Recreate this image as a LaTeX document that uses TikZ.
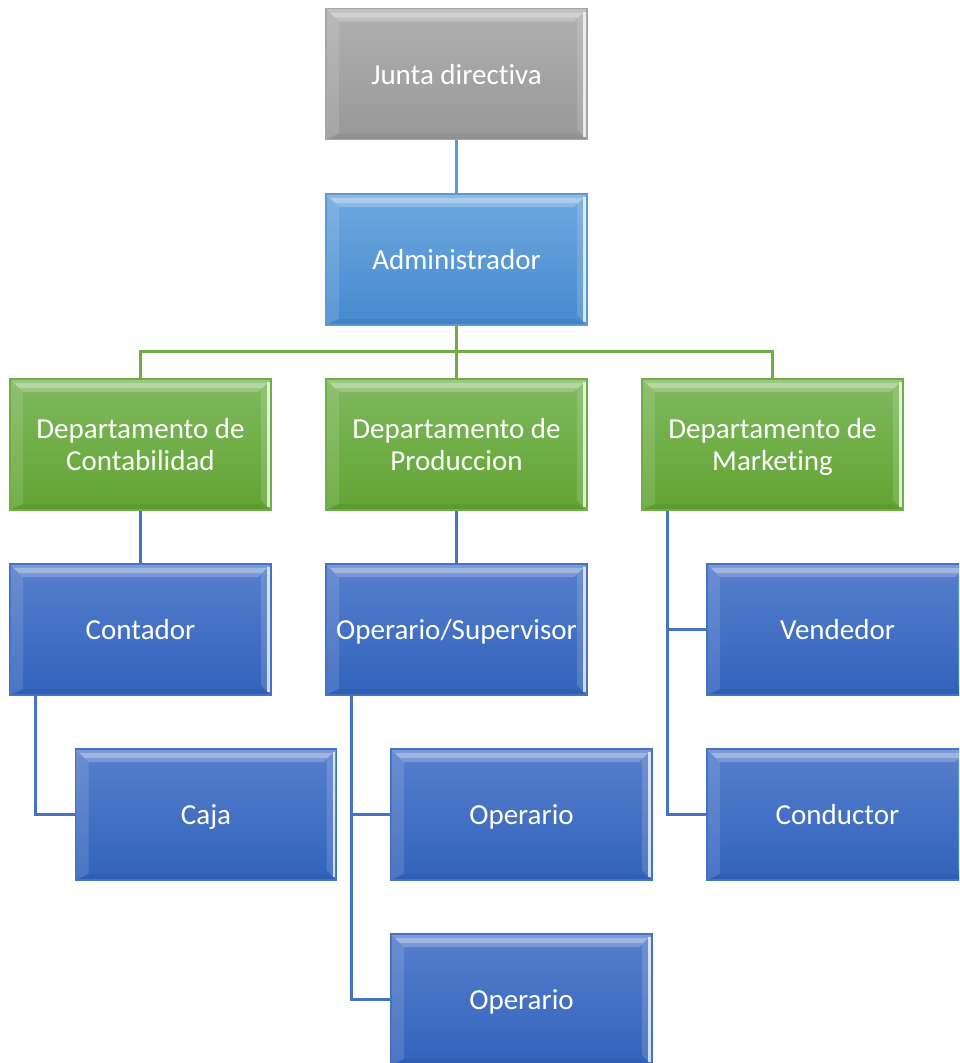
\documentclass[tikz,border=0pt]{standalone}
\usepackage{fontspec}
\setmainfont{Carlito}[Ligatures=NoCommon]
\usetikzlibrary{calc}
\newcommand\bxstrut{\rule[-5.6pt]{0pt}{32pt}}
\definecolor{grayTop}{HTML}{B0B0B0}
\definecolor{grayBot}{HTML}{989898}
\definecolor{grayLine}{HTML}{A5A5A5}
\definecolor{lbTop}{HTML}{6EA8DF}
\definecolor{lbBot}{HTML}{4689CF}
\definecolor{lbLine}{HTML}{5B9BD5}
\definecolor{grTop}{HTML}{7FB95E}
\definecolor{grBot}{HTML}{62A433}
\definecolor{grLine}{HTML}{70AD47}
\definecolor{blTop}{HTML}{577FCC}
\definecolor{blBot}{HTML}{3163BC}
\definecolor{blLine}{HTML}{4472C4}
\tikzset{
  bevel/.style={path picture={
    \path (path picture bounding box.north west) coordinate (pnw)
          (path picture bounding box.north east) coordinate (pne)
          (path picture bounding box.south west) coordinate (psw)
          (path picture bounding box.south east) coordinate (pse);
    % top bevel
    \fill[white,opacity=.22] (pnw) -- (pne) -- ($(pne)+(-13pt,-13pt)$) -- ($(pnw)+(13pt,-13pt)$) -- cycle;
    \fill[white,opacity=.28] ($(pnw)+(4pt,-4pt)$) -- ($(pne)+(-4pt,-4pt)$) -- ($(pne)+(-9pt,-9pt)$) -- ($(pnw)+(9pt,-9pt)$) -- cycle;
    % left bevel
    \fill[white,opacity=.12] (pnw) -- ($(pnw)+(13pt,-13pt)$) -- ($(psw)+(13pt,6pt)$) -- (psw) -- cycle;
    % right bevel
    \fill[white,opacity=.15] (pne) -- ($(pne)+(-10pt,-10pt)$) -- ($(pse)+(-10pt,10pt)$) -- (pse) -- cycle;
    \fill[white,opacity=.75] ($(pne)+(-1.5pt,-3pt)$) rectangle ($(pse)+(-4pt,3pt)$);
    % bottom bevel
    \fill[black,opacity=.05] (psw) -- ($(psw)+(13pt,6pt)$) -- ($(pse)+(-13pt,6pt)$) -- (pse) -- cycle;
  }},
  orgbox/.style={rectangle, minimum width=261pt, minimum height=131pt, inner sep=0pt,
    text=white, align=center, font=\fontsize{29}{32}\selectfont, line width=1.2pt, bevel,
    execute at end node=\bxstrut},
  graybox/.style={orgbox, draw=grayLine, top color=grayTop, bottom color=grayBot},
  lbbox/.style={orgbox, draw=lbLine, top color=lbTop, bottom color=lbBot},
  grbox/.style={orgbox, draw=grLine, top color=grTop, bottom color=grBot},
  blbox/.style={orgbox, draw=blLine, top color=blTop, bottom color=blBot},
  lbconn/.style={draw=lbLine, line width=2.6pt},
  grconn/.style={draw=grLine, line width=2.6pt},
  blconn/.style={draw=blLine, line width=2.6pt},
}
\begin{document}
\begin{tikzpicture}[x=1pt,y=-1pt]
\fill[white] (0,0) rectangle (959,1063);
\useasboundingbox (0,0) rectangle (959,1063);
\begin{scope}
\clip (0,0) rectangle (959,1063);
\node[graybox] (junta) at (456.5,74) {\bxstrut Junta directiva};
\node[lbbox] (admin) at (456.5,259.5) {\bxstrut Administrador};
\node[grbox] (dc) at (140.5,444.5) {\bxstrut Departamento de\\Contabilidad};
\node[grbox] (dp) at (456.5,444.5) {\bxstrut Departamento de\\Produccion};
\node[grbox] (dm) at (772.5,444.5) {\bxstrut Departamento de\\Marketing};
\node[blbox] (cont) at (140.5,629.5) {\bxstrut Contador};
\node[blbox] (opsup) at (456.5,629.5) {\bxstrut Operario/Supervisor};
\node[blbox] (vend) at (837.5,629.5) {\bxstrut Vendedor};
\node[blbox] (caja) at (206,814.5) {\bxstrut Caja};
\node[blbox] (op1) at (521.5,814.5) {\bxstrut Operario};
\node[blbox] (cond) at (837.5,814.5) {\bxstrut Conductor};
\node[blbox] (op2) at (521.5,999.5) {\bxstrut Operario};

\draw[lbconn] (junta.south) -- (admin.north);
\draw[grconn] (admin.south) -- (dp.north);
\draw[grconn] (dc.north) -- ++(0,-27) -| (dm.north);
\draw[blconn] (dc.south) -- (cont.north);
\draw[blconn] (dp.south) -- (opsup.north);
\draw[blconn] ($(cont.south west)+(26,0)$) |- (caja.west);
\draw[blconn] ($(opsup.south west)+(26,0)$) |- (op1.west);
\draw[blconn] ($(opsup.south west)+(26,0)$) |- (op2.west);
\draw[blconn] ($(dm.south west)+(26,0)$) |- (vend.west);
\draw[blconn] ($(dm.south west)+(26,0)$) |- (cond.west);
\end{scope}
\end{tikzpicture}
\end{document}
